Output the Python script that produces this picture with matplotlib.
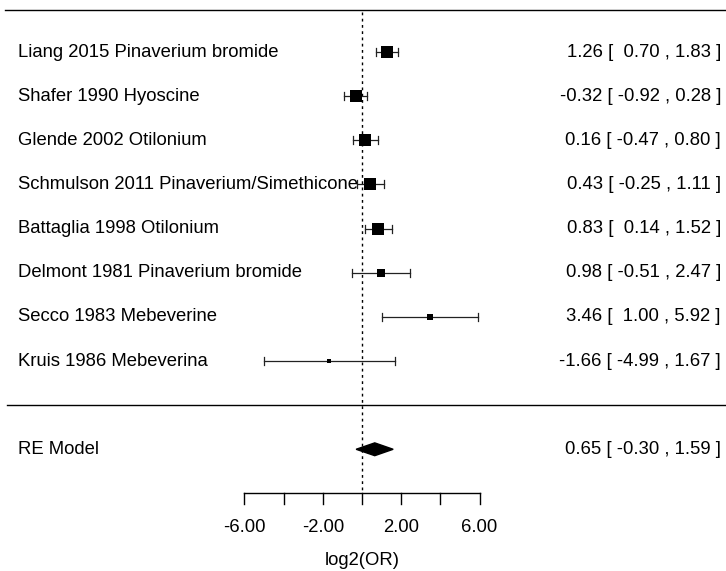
import numpy as np
import matplotlib.pyplot as plt
from matplotlib.patches import Polygon

plt.rcParams['font.family'] = ['Liberation Sans', 'DejaVu Sans']

studies = ['Liang 2015 Pinaverium bromide', 'Shafer 1990 Hyoscine', 'Glende 2002 Otilonium',
           'Schmulson 2011 Pinaverium/Simethicone', 'Battaglia 1998 Otilonium',
           'Delmont 1981 Pinaverium bromide', 'Secco 1983 Mebeverine', 'Kruis 1986 Mebeverina']
est = [1.26, -0.32, 0.16, 0.43, 0.83, 0.98, 3.46, -1.66]
lower = [0.70, -0.92, -0.47, -0.25, 0.14, -0.51, 1.00, -4.99]
upper = [1.83, 0.28, 0.80, 1.11, 1.52, 2.47, 5.92, 1.67]
weights = [17.5, 17.0, 17.0, 16.0, 16.6, 10.0, 4.5, 1.5]

re_label = 'RE Model'
re_est, re_lower, re_upper = 0.65, -0.30, 1.59

ticks = [-6, -4, -2, 0, 2, 4, 6]
tick_labels = ['-6.00', '', '-2.00', '', '2.00', '', '6.00']
xlabel = 'log2(OR)'

fs = 13.3

fig = plt.figure(figsize=(7.26, 5.71), dpi=100)
ax = fig.add_axes([0, 0, 1, 1])
ax.axis('off')

# pixel mapping: x=0 at 362px, 19.6 px per unit; rows 44.14 px apart
px = 19.6
ax.set_xlim(-362 / px, (726 - 362) / px)
ax.set_ylim(1 - (571 - 361) / 44.14, 1 + 361 / 44.14)

k = len(studies)
rows = np.arange(k, 0, -1)
xl = (18 - 362) / px
xr = (721 - 362) / px


def ci_text(e, lo, hi):
    return f'{e:.2f} [ {lo:5.2f} , {hi:.2f} ]'


ax.plot([-18.2, 18.6], [k + 0.95, k + 0.95], color='black', lw=1)
ax.plot([-18.1, 18.6], [0, 0], color='black', lw=1)
ax.plot([0, 0], [k + 0.9, -2], color='black', lw=1, ls=(0, (2, 2.5)))

w = np.array(weights)
sizes = 0.5 + (w - w.min()) / (w.max() - w.min())

for i, r in enumerate(rows):
    ax.plot([lower[i], upper[i]], [r, r], color='#222222', lw=0.9)
    for x in (lower[i], upper[i]):
        ax.plot([x, x], [r - 0.09, r + 0.09], color='#222222', lw=0.9)
    ax.plot(est[i], r, marker='s', color='black', ms=sizes[i] * 5.9, mew=0)
    ax.text(xl, r, studies[i], ha='left', va='center', fontsize=fs)
    ax.text(xr, r, ci_text(est[i], lower[i], upper[i]), ha='right', va='center', fontsize=fs)

ax.add_patch(Polygon([[re_lower, -1], [re_est, -0.855], [re_upper, -1], [re_est, -1.145]],
                     closed=True, color='black'))
ax.text(xl, -1, re_label, ha='left', va='center', fontsize=fs)
ax.text(xr, -1, ci_text(re_est, re_lower, re_upper), ha='right', va='center', fontsize=fs)

# x axis
ax.plot([ticks[0], ticks[-1]], [-2, -2], color='black', lw=1)
for t, lab in zip(ticks, tick_labels):
    ax.plot([t, t], [-2, -2.25], color='black', lw=1)
    if lab:
        ax.text(t, -2.77, lab, ha='center', va='center', fontsize=fs)
ax.text(0, -3.52, xlabel, ha='center', va='center', fontsize=fs)

fig.savefig('out.png', dpi=100)
